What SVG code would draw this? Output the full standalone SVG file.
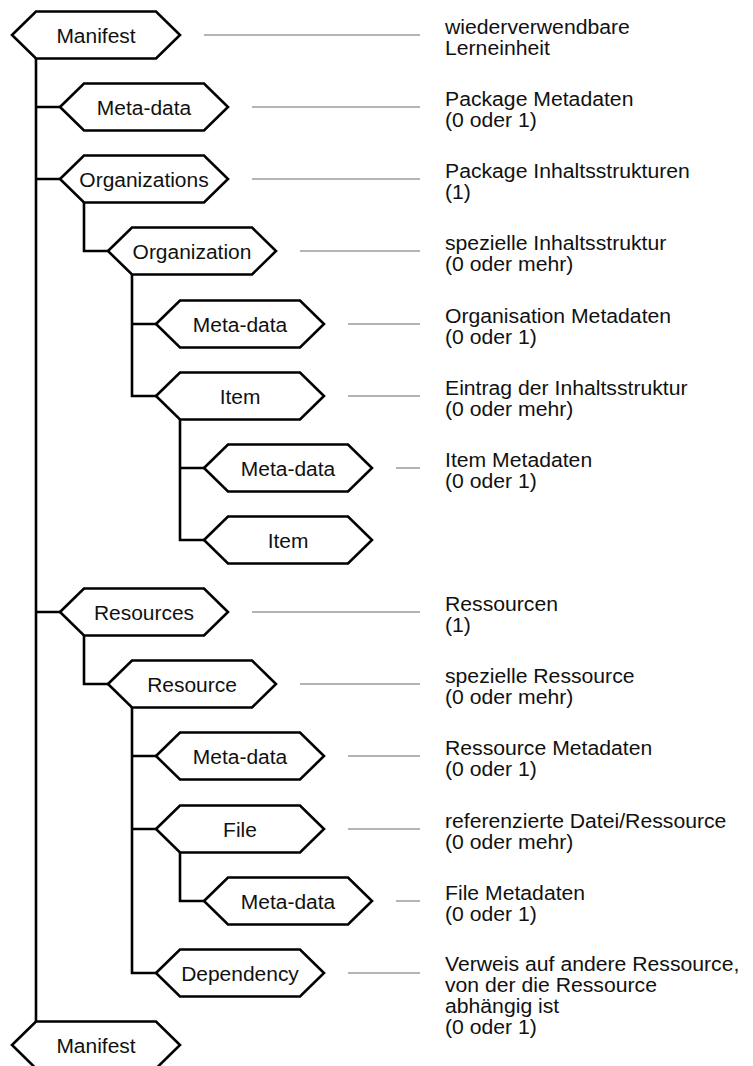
<svg xmlns="http://www.w3.org/2000/svg" width="753" height="1066" viewBox="0 0 753 1066">
  <defs>
    <!-- element box: hexagon 168 wide, 47 high, anchored at its left point -->
    <polygon id="hex" points="0,0 24,-23.5 144,-23.5 168,0 144,23.5 24,23.5"/>
  </defs>
  <style>
    .hex { fill: #fff; stroke: #000; stroke-width: 2.6; stroke-linejoin: miter; }
    .tree { fill: none; stroke: #000; stroke-width: 2.6; stroke-linecap: square; }
    .lead { fill: none; stroke: #6a6a6a; stroke-width: 1.2; }
    .lbl { font-family: "Liberation Sans", Arial, sans-serif; font-size: 19.6px; text-anchor: middle; fill: #111; }
    .desc { font-family: "Liberation Sans", Arial, sans-serif; font-size: 19.8px; fill: #111; }
  </style>
  <rect width="753" height="1066" fill="#fff"/>

  <!-- tree connectors -->
  <g id="connectors" class="tree">
    <path d="M36,58.5 V1021.5 M36,107 H60 M36,179 H60 M36,612 H60"/>
    <path d="M84,202.5 V251 H108"/>
    <path d="M132,274.5 V396 M132,324 H156 M132,396 H156"/>
    <path d="M180,419.5 V540 M180,468 H204 M180,540 H204"/>
    <path d="M84,635.5 V684 H108"/>
    <path d="M132,707.5 V973 M132,756 H156 M132,829 H156 M132,973 H156"/>
    <path d="M180,852.5 V901 H204"/>
  </g>

  <!-- leader lines to the descriptions -->
  <g id="leaders" class="lead">
    <path d="M204,35 H420 M252,107 H420 M252,179 H420 M300,251 H420 M348,324 H420 M348,396 H420 M396,468 H420"/>
    <path d="M252,612 H420 M300,684 H420 M348,756 H420 M348,829 H420 M396,901 H420 M348,973 H420"/>
  </g>

  <!-- nodes -->
  <g id="manifest-top"><use href="#hex" class="hex" x="12" y="35"/><text class="lbl" transform="translate(96 42.5) scale(1.07 1)">Manifest</text></g>
  <g id="metadata-package"><use href="#hex" class="hex" x="60" y="107"/><text class="lbl" transform="translate(144 114.5) scale(1.07 1)">Meta-data</text></g>
  <g id="organizations"><use href="#hex" class="hex" x="60" y="179"/><text class="lbl" transform="translate(144 186.5) scale(1.07 1)">Organizations</text></g>
  <g id="organization"><use href="#hex" class="hex" x="108" y="251"/><text class="lbl" transform="translate(192 258.5) scale(1.07 1)">Organization</text></g>
  <g id="metadata-organization"><use href="#hex" class="hex" x="156" y="324"/><text class="lbl" transform="translate(240 331.5) scale(1.07 1)">Meta-data</text></g>
  <g id="item"><use href="#hex" class="hex" x="156" y="396"/><text class="lbl" transform="translate(240 403.5) scale(1.07 1)">Item</text></g>
  <g id="metadata-item"><use href="#hex" class="hex" x="204" y="468"/><text class="lbl" transform="translate(288 475.5) scale(1.07 1)">Meta-data</text></g>
  <g id="item-nested"><use href="#hex" class="hex" x="204" y="540"/><text class="lbl" transform="translate(288 547.5) scale(1.07 1)">Item</text></g>
  <g id="resources"><use href="#hex" class="hex" x="60" y="612"/><text class="lbl" transform="translate(144 619.5) scale(1.07 1)">Resources</text></g>
  <g id="resource"><use href="#hex" class="hex" x="108" y="684"/><text class="lbl" transform="translate(192 691.5) scale(1.07 1)">Resource</text></g>
  <g id="metadata-resource"><use href="#hex" class="hex" x="156" y="756"/><text class="lbl" transform="translate(240 763.5) scale(1.07 1)">Meta-data</text></g>
  <g id="file"><use href="#hex" class="hex" x="156" y="829"/><text class="lbl" transform="translate(240 836.5) scale(1.07 1)">File</text></g>
  <g id="metadata-file"><use href="#hex" class="hex" x="204" y="901"/><text class="lbl" transform="translate(288 908.5) scale(1.07 1)">Meta-data</text></g>
  <g id="dependency"><use href="#hex" class="hex" x="156" y="973"/><text class="lbl" transform="translate(240 980.5) scale(1.07 1)">Dependency</text></g>
  <g id="manifest-bottom"><use href="#hex" class="hex" x="12" y="1045"/><text class="lbl" transform="translate(96 1052.5) scale(1.07 1)">Manifest</text></g>

  <!-- descriptions -->
  <g id="descriptions" class="desc">
    <text transform="translate(445 34) scale(1.07 1)"><tspan x="0" y="0">wiederverwendbare</tspan><tspan x="0" dy="21">Lerneinheit</tspan></text>
    <text transform="translate(445 106) scale(1.07 1)"><tspan x="0" y="0">Package Metadaten</tspan><tspan x="0" dy="21">(0 oder 1)</tspan></text>
    <text transform="translate(445 178) scale(1.07 1)"><tspan x="0" y="0">Package Inhaltsstrukturen</tspan><tspan x="0" dy="21">(1)</tspan></text>
    <text transform="translate(445 250) scale(1.07 1)"><tspan x="0" y="0">spezielle Inhaltsstruktur</tspan><tspan x="0" dy="21">(0 oder mehr)</tspan></text>
    <text transform="translate(445 323) scale(1.07 1)"><tspan x="0" y="0">Organisation Metadaten</tspan><tspan x="0" dy="21">(0 oder 1)</tspan></text>
    <text transform="translate(445 395) scale(1.07 1)"><tspan x="0" y="0">Eintrag der Inhaltsstruktur</tspan><tspan x="0" dy="21">(0 oder mehr)</tspan></text>
    <text transform="translate(445 467) scale(1.07 1)"><tspan x="0" y="0">Item Metadaten</tspan><tspan x="0" dy="21">(0 oder 1)</tspan></text>
    <text transform="translate(445 611) scale(1.07 1)"><tspan x="0" y="0">Ressourcen</tspan><tspan x="0" dy="21">(1)</tspan></text>
    <text transform="translate(445 683) scale(1.07 1)"><tspan x="0" y="0">spezielle Ressource</tspan><tspan x="0" dy="21">(0 oder mehr)</tspan></text>
    <text transform="translate(445 755) scale(1.07 1)"><tspan x="0" y="0">Ressource Metadaten</tspan><tspan x="0" dy="21">(0 oder 1)</tspan></text>
    <text transform="translate(445 828) scale(1.07 1)"><tspan x="0" y="0">referenzierte Datei/Ressource</tspan><tspan x="0" dy="21">(0 oder mehr)</tspan></text>
    <text transform="translate(445 900) scale(1.07 1)"><tspan x="0" y="0">File Metadaten</tspan><tspan x="0" dy="21">(0 oder 1)</tspan></text>
    <text transform="translate(445 971) scale(1.07 1)"><tspan x="0" y="0">Verweis auf andere Ressource,</tspan><tspan x="0" dy="21">von der die Ressource</tspan><tspan x="0" dy="21">abhängig ist</tspan><tspan x="0" dy="21">(0 oder 1)</tspan></text>
  </g>
</svg>
